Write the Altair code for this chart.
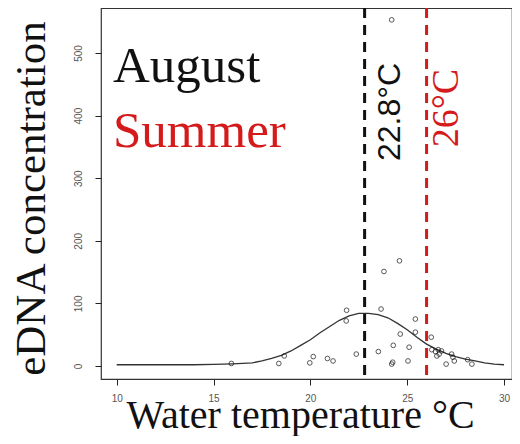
import altair as alt
import pandas as pd

# observed points: water temperature (°C) and eDNA concentration
pt_temp = [15.92, 18.37, 18.65, 19.97, 20.15, 20.88, 21.17, 21.87, 21.85, 22.37,
           23.65, 23.51, 24.28, 24.20, 24.25, 24.64, 25.10, 25.04, 25.42, 25.42,
           26.24, 26.27, 26.46, 26.60, 26.77, 26.53, 26.65, 27.29, 27.36, 27.43,
           27.01, 28.12, 28.34, 23.80, 24.60, 24.20]
pt_conc = [4, 4, 16, 5, 15, 12, 8, 89, 72, 19,
           91, 23, 33, 3, 6, 51, 30, 8, 75, 54,
           46, 26, 23, 26, 24, 16, 19, 19, 14, 8,
           3, 10, 3, 151, 168, 553]

# fitted curve
curve_x = [10, 11, 12, 13, 14, 15, 16, 17, 17.5, 18, 18.5, 19, 19.5, 20, 20.5, 21,
           21.5, 22, 22.5, 23, 23.5, 24, 24.5, 25, 25.5, 26, 26.5, 27, 27.5, 28,
           28.5, 29, 29.5, 30]
curve_y = [2, 2, 2, 2, 2, 2.5, 3.5, 5, 8, 12, 17, 24, 33, 42, 53, 63,
           73, 80, 84, 84, 82, 77, 68, 58, 46, 35, 27, 20, 15, 11,
           8, 5, 3, 2]

# reference temperatures
ref_temp = [22.8, 26.0]
ref_label = ["22.8°C", "26°C"]
ref_color = ["#111111", "#d41a1a"]

x_ticks = [10, 15, 20, 25, 30]
y_ticks = [0, 100, 200, 300, 400, 500]

points = pd.DataFrame({"t": pt_temp, "c": pt_conc})
curve = pd.DataFrame({"t": curve_x, "c": curve_y})

xs = alt.Scale(domain=[9.19, 30.41], nice=False, zero=False)
ys = alt.Scale(domain=[-20.8, 571.9], nice=False, zero=False)

xax = alt.Axis(values=x_ticks, title="Water temperature °C", grid=False, domain=False,
               tickSize=6, tickColor="#222", labelColor="#555", labelFontSize=10,
               labelFont="Liberation Sans", labelPadding=8, labelFlush=False,
               titleFont="Liberation Serif", titleFontSize=40, titleFontWeight="normal",
               titleColor="#111", titleX=199, titleY=48, titleBaseline="alphabetic",
               titleAlign="center")
yax = alt.Axis(values=y_ticks, title="eDNA concentration", grid=False, domain=False,
               tickSize=6, tickColor="#222", labelColor="#555", labelFontSize=10,
               labelFont="Liberation Sans", labelAngle=270, labelAlign="center",
               labelBaseline="bottom", labelPadding=12, labelFlush=False,
               titleFont="Liberation Serif", titleFontSize=43, titleFontWeight="normal",
               titleColor="#111", titleAngle=270, titleX=-57, titleY=190,
               titleBaseline="alphabetic", titleAlign="center")

line = alt.Chart(curve).mark_line(color="#333", strokeWidth=1.3).encode(
    x=alt.X("t:Q", scale=xs, axis=xax),
    y=alt.Y("c:Q", scale=ys, axis=yax),
)

pts = alt.Chart(points).mark_point(shape="circle", filled=False, color="#111",
                                   size=22, strokeWidth=1).encode(
    x=alt.X("t:Q", scale=xs), y=alt.Y("c:Q", scale=ys))

rules_df = pd.DataFrame({"t": ref_temp, "col": ref_color})
rules = alt.Chart(rules_df).mark_rule(strokeWidth=3, strokeDash=[10, 7]).encode(
    x=alt.X("t:Q", scale=xs),
    color=alt.Color("col:N", scale=None),
)

# annotations
ann_black = alt.Chart(pd.DataFrame({"t": [24.63], "c": [405.8], "s": [ref_label[0]]})).mark_text(
    font="Liberation Sans", fontSize=32, angle=270, align="center", baseline="alphabetic",
    color=ref_color[0]).encode(x=alt.X("t:Q", scale=xs), y=alt.Y("c:Q", scale=ys), text="s:N")
ann_red = alt.Chart(pd.DataFrame({"t": [27.62], "c": [412], "s": [ref_label[1]]})).mark_text(
    font="Liberation Serif", fontSize=38, angle=270, align="center", baseline="alphabetic",
    color=ref_color[1]).encode(x=alt.X("t:Q", scale=xs), y=alt.Y("c:Q", scale=ys), text="s:N")

words = ["August", "Summer"]
word_y = [453.7, 349.8]
word_col = ["#111111", "#d41a1a"]
wdf = pd.DataFrame({"t": [9.81, 9.81], "c": word_y, "s": words, "col": word_col})
ann_words = alt.Chart(wdf).mark_text(font="Liberation Serif", fontSize=51, align="left",
                                      baseline="alphabetic").encode(
    x=alt.X("t:Q", scale=xs), y=alt.Y("c:Q", scale=ys), text="s:N",
    color=alt.Color("col:N", scale=None))

chart = alt.layer(line, pts, rules, ann_black, ann_red, ann_words).properties(
    width=411, height=371,
    autosize=alt.AutoSizeParams(type="none"),
    padding={"left": 93, "top": 0, "right": 0, "bottom": 57},
    background="white",
).configure_view(stroke="#333", strokeWidth=1.2)

chart.save("out.html", embed_options={"renderer": "svg", "actions": False})
